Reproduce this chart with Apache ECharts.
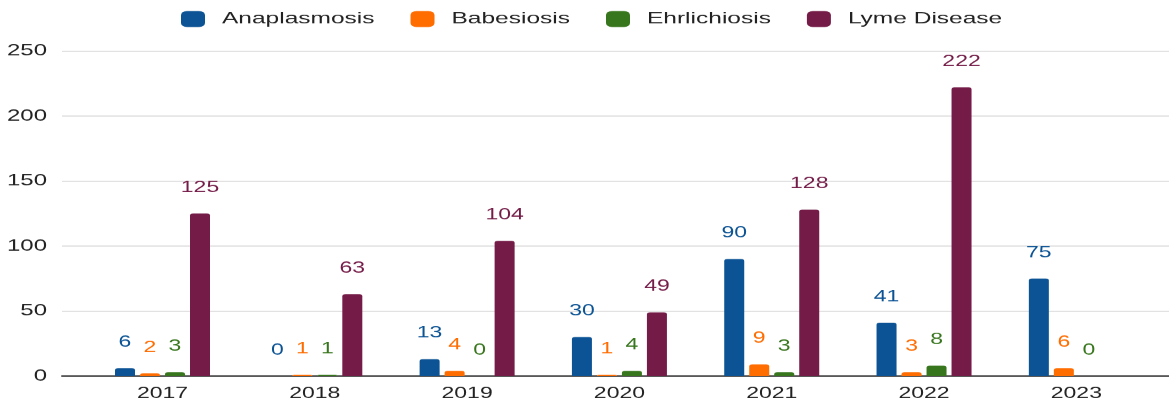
<!DOCTYPE html>
<html>
<head>
<meta charset="utf-8">
<script src="https://cdn.jsdelivr.net/npm/echarts@6/dist/echarts.min.js"></script>
<style>
html, body { margin: 0; padding: 0; background: #fff; overflow: hidden; }
#wrap { width: 1169px; height: 406px; overflow: hidden; }
#chart { width: 1169px; height: 609px; transform: scaleY(0.66667); transform-origin: 0 0; }
</style>
</head>
<body>
<div id="wrap"><div id="chart"></div></div>
<script>
const categories = ['2017', '2018', '2019', '2020', '2021', '2022', '2023'];
const anaplasmosis = [6, 0, 13, 30, 90, 41, 75];
const babesiosis = [2, 1, 4, 1, 9, 3, 6];
const ehrlichiosis = [3, 1, 0, 4, 3, 8, 0];
const lymeDisease = [125, 63, 104, 49, 128, 222, null];
const seriesNames = ['Anaplasmosis', 'Babesiosis', 'Ehrlichiosis', 'Lyme Disease'];
const seriesColors = ['#0b5394', '#ff6d01', '#38761d', '#741b47'];
const yMin = 0, yMax = 250, yInterval = 50;

const FONT = '"Liberation Sans", Arial, sans-serif';
const chart = echarts.init(document.getElementById('chart'), null, { renderer: 'canvas', width: 1169, height: 609 });

const seriesData = [anaplasmosis, babesiosis, ehrlichiosis, lymeDisease];
const series = seriesData.map((d, i) => ({
  name: seriesNames[i],
  type: 'bar',
  xAxisIndex: 1,
  yAxisIndex: 1,
  data: d,
  barWidth: 20,
  barGap: '25%',
  itemStyle: { color: seriesColors[i], borderRadius: [3, 3, 0, 0] },
  label: {
    show: true,
    position: 'top',
    distance: 27,
    fontSize: 23,
    fontFamily: FONT,
    color: seriesColors[i]
  }
}));

chart.setOption({
  animation: false,
  backgroundColor: '#ffffff',
  color: seriesColors,
  legend: {
    left: 176,
    top: 11,
    itemWidth: 24,
    itemHeight: 24,
    itemGap: 36,
    icon: 'roundRect',
    data: seriesNames,
    textStyle: { fontSize: 24.5, fontFamily: FONT, color: '#222', padding: [0, 0, 0, 12] }
  },
  grid: [
    { left: 62, right: 0, top: 76.5, bottom: 45 },
    { left: 86.35, right: 16.5, top: 76.5, bottom: 45 }
  ],
  xAxis: [
    {
      gridIndex: 0, type: 'value', min: 0, max: 1, position: 'bottom',
      axisLine: { show: true, onZero: false, lineStyle: { color: '#333', width: 2 } },
      axisTick: { show: false }, axisLabel: { show: false }, splitLine: { show: false }
    },
    {
      gridIndex: 1, type: 'category', data: categories,
      axisLine: { show: false }, axisTick: { show: false },
      axisLabel: { fontSize: 23, fontFamily: FONT, color: '#222', margin: 15 }
    }
  ],
  yAxis: [
    {
      gridIndex: 0, type: 'value', min: yMin, max: yMax, interval: yInterval,
      axisLine: { show: false }, axisTick: { show: false },
      axisLabel: { fontSize: 24, fontFamily: FONT, color: '#222', margin: 15 },
      splitLine: { lineStyle: { color: '#d9d9d9', width: 1.5 } }
    },
    {
      gridIndex: 1, type: 'value', min: yMin, max: yMax, interval: yInterval, show: false
    }
  ],
  series: series
});
</script>
</body>
</html>
